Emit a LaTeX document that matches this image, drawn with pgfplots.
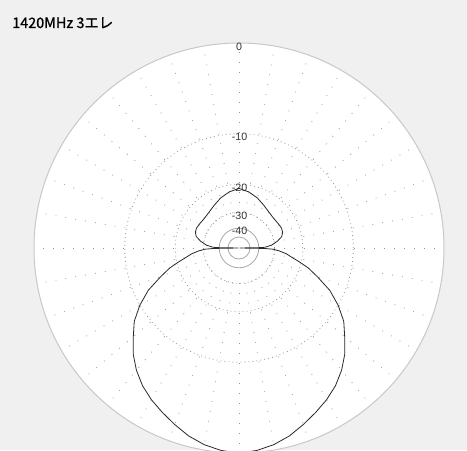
\documentclass[border=0pt]{standalone}
\usepackage{pgfplots}
\usepackage{pgfplotstable}
\pgfplotsset{compat=1.18}
\usepackage{fontspec}
\setmainfont{Liberation Sans}
\newfontfamily\jp[FakeBold=1]{Noto Sans CJK JP}
\definecolor{bgc}{RGB}{240,240,240}
\definecolor{edgec}{RGB}{200,200,200}
\definecolor{ringc}{RGB}{150,150,150}
\definecolor{solidc}{RGB}{170,170,170}
\definecolor{patc}{RGB}{40,40,40}
% angle (deg, clockwise from top), gain (dB)
\pgfplotstableread{
ang db
0 -21.2
10 -22.0
20 -23.1
30 -24.4
40 -25.4
50 -25.8
55 -25.7
60 -25.5
65 -25.3
70 -25.5
75 -26.3
80 -28.5
85 -31.5
88 -35.0
89 -37.5
90 -99
91 -36
92 -31
94 -28
97 -25
100 -23
103 -20.5
106 -18
110 -15.5
115 -12.3
120 -10.0
125 -8.1
130 -6.8
135 -5.4
140 -4.3
145 -3.4
150 -2.7
155 -2.1
160 -1.5
165 -0.9
170 -0.45
175 -0.15
180 0
185 -0.15
190 -0.45
195 -0.9
200 -1.5
205 -2.1
210 -2.7
215 -3.4
220 -4.3
225 -5.4
230 -6.8
235 -8.1
240 -10.0
245 -12.3
250 -15.5
254 -18
257 -20.5
260 -23
263 -25
266 -28
268 -31
269 -36
270 -99
271 -37.5
272 -35.0
275 -31.5
280 -28.5
285 -26.3
290 -25.5
295 -25.3
300 -25.5
305 -25.7
310 -25.8
320 -25.4
330 -24.4
340 -23.1
350 -22.0
360 -21.2
}\patdata
\begin{document}
\begin{tikzpicture}
\begin{axis}[hide axis, x=0.75pt, y=0.75pt,
  xmin=-239, xmax=228, ymin=-202, ymax=248, clip=true]
\fill[bgc] (axis cs:-239,-202) rectangle (axis cs:228,248);
\fill[white] (axis cs:0,0) circle[radius=153.75pt];
\draw[edgec, line width=0.75pt] (axis cs:0,0) circle[radius=153.75pt];
% spokes
\foreach \a in {0,10,...,350}{
  \edef\tmp{\noexpand\draw[ringc, line width=0.6pt, dash pattern=on 0.6pt off 6.9pt, shift={(axis cs:0,0)}]
    ({90-\a}:26.6pt) -- ({90-\a}:153pt);}
  \tmp
}
% dB rings
\draw[ringc, line width=0.6pt, dash pattern=on 0.6pt off 2.4pt] (axis cs:0,0) circle[radius=85.7pt];
\draw[ringc, line width=0.6pt, dash pattern=on 0.6pt off 2.4pt] (axis cs:0,0) circle[radius=47.8pt];
\draw[ringc, line width=0.6pt, dash pattern=on 0.6pt off 2.4pt] (axis cs:0,0) circle[radius=26.6pt];
\draw[solidc, line width=0.6pt] (axis cs:0,0) circle[radius=14.85pt];
\draw[solidc, line width=0.6pt] (axis cs:0,0) circle[radius=8.25pt];
% labels
\node[anchor=north, inner sep=0pt, text=black!80, font=\fontsize{8}{9}\selectfont] at (axis cs:0,205) {0};
\node[anchor=north, inner sep=0pt, text=black!80, font=\fontsize{8}{9}\selectfont] at (axis cs:0.5,115.3) {-10};
\node[anchor=north, inner sep=0pt, text=black!80, font=\fontsize{8}{9}\selectfont] at (axis cs:0.5,64.7) {-20};
\node[anchor=north, inner sep=0pt, text=black!80, font=\fontsize{8}{9}\selectfont] at (axis cs:0.5,36.5) {-30};
\node[anchor=north, inner sep=0pt, text=black!80, font=\fontsize{8}{9}\selectfont] at (axis cs:0.5,20.8) {-40};
% pattern
\addplot[patc, line width=0.6pt, sharp plot] table[
  x expr={205*exp(0.05827*\thisrow{db})*sin(\thisrow{ang})},
  y expr={205*exp(0.05827*\thisrow{db})*cos(\thisrow{ang})}] {\patdata};
\node[anchor=base west, inner sep=0pt, font=\jp\fontsize{10.8}{12}\selectfont] at (axis cs:-227,220) {1420MHz 3エレ};
\end{axis}
\pgfresetboundingbox
\useasboundingbox (current axis.south west) rectangle (current axis.north east);
\end{tikzpicture}
\end{document}
